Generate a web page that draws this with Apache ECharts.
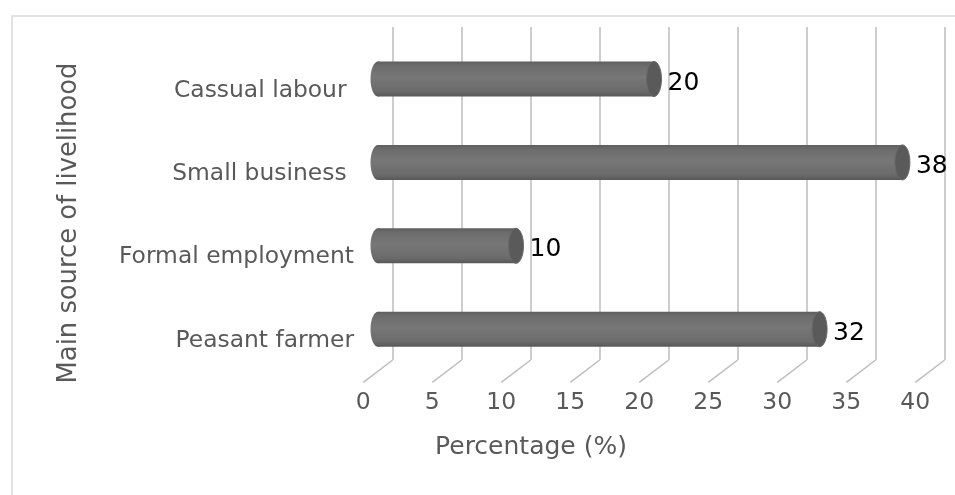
<!DOCTYPE html>
<html>
<head>
<meta charset="utf-8">
<script src="https://cdn.jsdelivr.net/npm/echarts@6/dist/echarts.min.js"></script>
<style>
html,body{margin:0;padding:0;background:#fff;}
#chart{width:955px;height:495px;}
</style>
</head>
<body>
<div id="chart"></div>
<script>
const categories = ['Peasant farmer', 'Formal employment', 'Small business ', 'Cassual labour '];
const values = [32, 10, 38, 20];
const xTicks = [0, 5, 10, 15, 20, 25, 30, 35, 40];
const xTitle = 'Percentage (%)';
const yTitle = 'Main source of livelihood';

const FONT = '"DejaVu Sans", "Noto Sans", sans-serif';
const GRID_COLOR = '#bdbdbd';
const TEXT_COLOR = '#595959';
const DEPTH_X = -29.4, DEPTH_Y = 22.3;

const chart = echarts.init(document.getElementById('chart'), null, {renderer: 'canvas'});

const option = {
  animation: false,
  backgroundColor: '#ffffff',
  grid: [
    {left: 392.7, top: 27, width: 552, height: 333},   // back wall
    {left: 363.3, top: 27, width: 552, height: 363},   // front tick labels
    {left: 378, top: 37.3, width: 552, height: 333.6}, // bars (mid depth)
    {left: 363, top: 48.8, width: 552, height: 333.6}  // category labels (front)
  ],
  xAxis: [
    {gridIndex: 0, type: 'value', min: 0, max: 40, interval: 5,
     axisLine: {show: false}, axisTick: {show: false}, axisLabel: {show: false},
     splitLine: {show: true, lineStyle: {color: GRID_COLOR, width: 1.5}}},
    {gridIndex: 1, type: 'value', min: 0, max: 40, interval: 5,
     axisLine: {show: false}, axisTick: {show: false}, splitLine: {show: false},
     axisLabel: {show: true, margin: 1, color: TEXT_COLOR, fontSize: 23.5, fontFamily: FONT}},
    {gridIndex: 2, type: 'value', min: 0, max: 40, interval: 5, show: false},
    {gridIndex: 3, type: 'value', min: 0, max: 40, interval: 5, show: false}
  ],
  yAxis: [
    {gridIndex: 0, type: 'value', min: 0, max: 1, show: false},
    {gridIndex: 1, type: 'value', min: 0, max: 1, show: false},
    {gridIndex: 2, type: 'category', data: categories, show: false},
    {gridIndex: 3, type: 'category', data: categories,
     axisLine: {show: false}, axisTick: {show: false}, splitLine: {show: false},
     axisLabel: {show: true, margin: 9, color: TEXT_COLOR, fontSize: 23.4, fontFamily: FONT}}
  ],
  graphic: [
    {type: 'rect', shape: {x: 12, y: 16, width: 1000, height: 600},
     style: {fill: 'none', stroke: '#d9d9d9', lineWidth: 1.5}, z: -1, silent: true},
    {type: 'text', x: 531, y: 447,
     style: {text: xTitle, fill: TEXT_COLOR, fontSize: 25, fontFamily: FONT, align: 'center', verticalAlign: 'middle'}},
    {type: 'text', x: 69, y: 223, rotation: Math.PI / 2,
     style: {text: yTitle, fill: TEXT_COLOR, fontSize: 25.8, fontFamily: FONT, align: 'center', verticalAlign: 'middle'}}
  ],
  series: [
    {
      type: 'custom', xAxisIndex: 0, yAxisIndex: 0, silent: true,
      data: xTicks.map(t => [t, 0]),
      renderItem: function (params, api) {
        const p = api.coord([api.value(0), 0]);
        return {type: 'line',
          shape: {x1: p[0], y1: p[1], x2: p[0] + DEPTH_X, y2: p[1] + DEPTH_Y},
          style: {stroke: GRID_COLOR, lineWidth: 1.5}};
      }
    },
    {
      type: 'custom', xAxisIndex: 2, yAxisIndex: 2, silent: true, z: 5,
      data: values.map((v, i) => [v, i]),
      renderItem: function (params, api) {
        const v = api.value(0);
        const cat = api.value(1);
        const p0 = api.coord([0, cat]);
        const p1 = api.coord([v, cat]);
        const band = api.size([0, 1])[1];
        const h = band * 0.42;
        const rx = 7.5, ry = h / 2;
        const grad = new echarts.graphic.LinearGradient(0, 0, 0, 1, [
          {offset: 0, color: '#5e5e5e'},
          {offset: 0.12, color: '#6c6c6c'},
          {offset: 0.45, color: '#777777'},
          {offset: 0.85, color: '#6b6b6b'},
          {offset: 1, color: '#585858'}
        ]);
        return {type: 'group', children: [
          {type: 'ellipse', shape: {cx: p0[0], cy: p0[1], rx: rx, ry: ry}, style: {fill: grad}},
          {type: 'rect', shape: {x: p0[0], y: p0[1] - h / 2, width: p1[0] - p0[0], height: h}, style: {fill: grad}},
          {type: 'ellipse', shape: {cx: p1[0], cy: p1[1], rx: rx, ry: ry},
           style: {fill: '#5a5a5a', stroke: '#6a6a6a', lineWidth: 1}},
          {type: 'text', x: p1[0] + rx + 6, y: p1[1] + 4,
           style: {text: String(v), fill: '#000000', fontSize: 25, fontFamily: FONT, align: 'left', verticalAlign: 'middle'}}
        ]};
      }
    }
  ]
};
chart.setOption(option);
</script>
</body>
</html>
